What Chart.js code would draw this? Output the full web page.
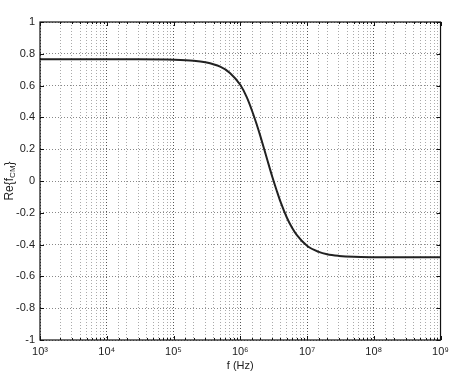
<!DOCTYPE html>
<html lang="en">
<head>
    <meta charset="UTF-8">
    <title>Re{fCM} vs frequency</title>
    <script src="https://cdn.jsdelivr.net/npm/chart.js"></script>
    <style>
        html, body { margin: 0; padding: 0; background: #fff; }
        #wrap { width: 454px; height: 376px; position: relative; }
    </style>
</head>
<body>
    <div id="wrap"><canvas id="cmChart" width="454" height="376"></canvas></div>
    <script>
        const freqHz = [1e3, 1e4, 3e4, 1e5, 2e5, 3e5, 5e5, 7e5, 1e6, 1.25e6, 1.5e6, 1.75e6, 2e6, 2.5e6,
                        3e6, 3.5e6, 4e6, 5e6, 6e6, 7e6, 1e7, 1.5e7, 2e7, 3e7, 5e7, 1e8, 1e9];
        const reCM = [0.765, 0.765, 0.765, 0.763, 0.757, 0.747, 0.719, 0.680, 0.605, 0.527, 0.442, 0.360,
                      0.282, 0.143, 0.030, -0.058, -0.130, -0.231, -0.296, -0.339, -0.407, -0.446, -0.461,
                      -0.471, -0.477, -0.479, -0.480];
        const yTicks = [-1, -0.8, -0.6, -0.4, -0.2, 0, 0.2, 0.4, 0.6, 0.8, 1];
        const supDigits = {'3': '³', '4': '⁴', '5': '⁵', '6': '⁶', '7': '⁷', '8': '⁸', '9': '⁹'};

        const FONT = 'Liberation Sans, Arial, Helvetica, sans-serif';

        const isDecade = v => Math.abs(Math.log10(v) - Math.round(Math.log10(v))) < 1e-9;

        // frame, inward tick marks, axis titles
        const framePlugin = {
            id: 'frame',
            afterDraw(chart) {
                const ctx = chart.ctx, a = chart.chartArea;
                const xs = chart.scales.x, ys = chart.scales.y;
                ctx.save();
                ctx.strokeStyle = '#111';
                ctx.lineWidth = 1;
                ctx.beginPath();
                xs.ticks.forEach(t => {
                    const px = Math.round(xs.getPixelForValue(t.value)) + 0.5;
                    const len = isDecade(t.value) ? 4 : 2;
                    ctx.moveTo(px, a.bottom); ctx.lineTo(px, a.bottom - len);
                    ctx.moveTo(px, a.top); ctx.lineTo(px, a.top + len);
                });
                ys.ticks.forEach(t => {
                    const py = Math.round(ys.getPixelForValue(t.value)) + 0.5;
                    ctx.moveTo(a.left, py); ctx.lineTo(a.left + 4, py);
                    ctx.moveTo(a.right, py); ctx.lineTo(a.right - 4, py);
                });
                ctx.stroke();

                ctx.lineWidth = 1.2;
                ctx.strokeRect(a.left, a.top, a.right - a.left, a.bottom - a.top);

                ctx.fillStyle = '#222';
                ctx.font = '11px ' + FONT;
                ctx.textAlign = 'center';
                ctx.textBaseline = 'middle';
                ctx.fillText('f (Hz)', (a.left + a.right) / 2, 366);

                // y title: Re{f_CM}
                ctx.translate(10, (a.top + a.bottom) / 2);
                ctx.rotate(-Math.PI / 2);
                ctx.textAlign = 'left';
                const big = '12px ' + FONT, small = '8px ' + FONT;
                ctx.font = big;
                const w1 = ctx.measureText('Re{f').width;
                const w3 = ctx.measureText('}').width;
                ctx.font = small;
                const w2 = ctx.measureText('CM').width;
                let x = -(w1 + w2 + w3) / 2;
                ctx.font = big;
                ctx.fillText('Re{f', x, 0);
                x += w1;
                ctx.font = small;
                ctx.fillText('CM', x, 3);
                x += w2;
                ctx.font = big;
                ctx.fillText('}', x, 0);
                ctx.restore();
            }
        };

        const ctx = document.getElementById('cmChart').getContext('2d');
        new Chart(ctx, {
            type: 'line',
            data: {
                datasets: [{
                    data: freqHz.map((f, i) => ({ x: f, y: reCM[i] })),
                    borderColor: '#222',
                    borderWidth: 2,
                    pointRadius: 0,
                    cubicInterpolationMode: 'monotone',
                    fill: false
                }]
            },
            options: {
                responsive: false,
                animation: false,
                layout: { padding: { left: 0, right: 11, top: 22, bottom: 0 } },
                plugins: {
                    legend: { display: false },
                    tooltip: { enabled: false }
                },
                scales: {
                    x: {
                        type: 'logarithmic',
                        min: 1e3,
                        max: 1e9,
                        afterFit: s => { s.height = 36; },
                        grid: {
                            drawTicks: false,
                            color: c => (c.tick && isDecade(c.tick.value)) ? '#555' : '#aaa',
                            lineWidth: 1
                        },
                        border: { display: false, dash: [1, 2] },
                        ticks: {
                            autoSkip: false,
                            maxRotation: 0,
                            padding: 5,
                            color: '#222',
                            font: { family: FONT, size: 11 },
                            callback: v => {
                                if (!isDecade(v)) return '';
                                const e = String(Math.round(Math.log10(v)));
                                return '10' + e.split('').map(d => supDigits[d]).join('');
                            }
                        }
                    },
                    y: {
                        min: -1,
                        max: 1,
                        afterFit: s => { s.width = 40; },
                        afterBuildTicks: s => { s.ticks = yTicks.map(v => ({ value: v })); },
                        grid: {
                            drawTicks: false,
                            color: '#888',
                            lineWidth: 1
                        },
                        border: { display: false, dash: [1, 2] },
                        ticks: {
                            padding: 5,
                            color: '#222',
                            font: { family: FONT, size: 11 },
                            callback: v => String(Math.round(v * 10) / 10)
                        }
                    }
                }
            },
            plugins: [framePlugin]
        });
    </script>
</body>
</html>
